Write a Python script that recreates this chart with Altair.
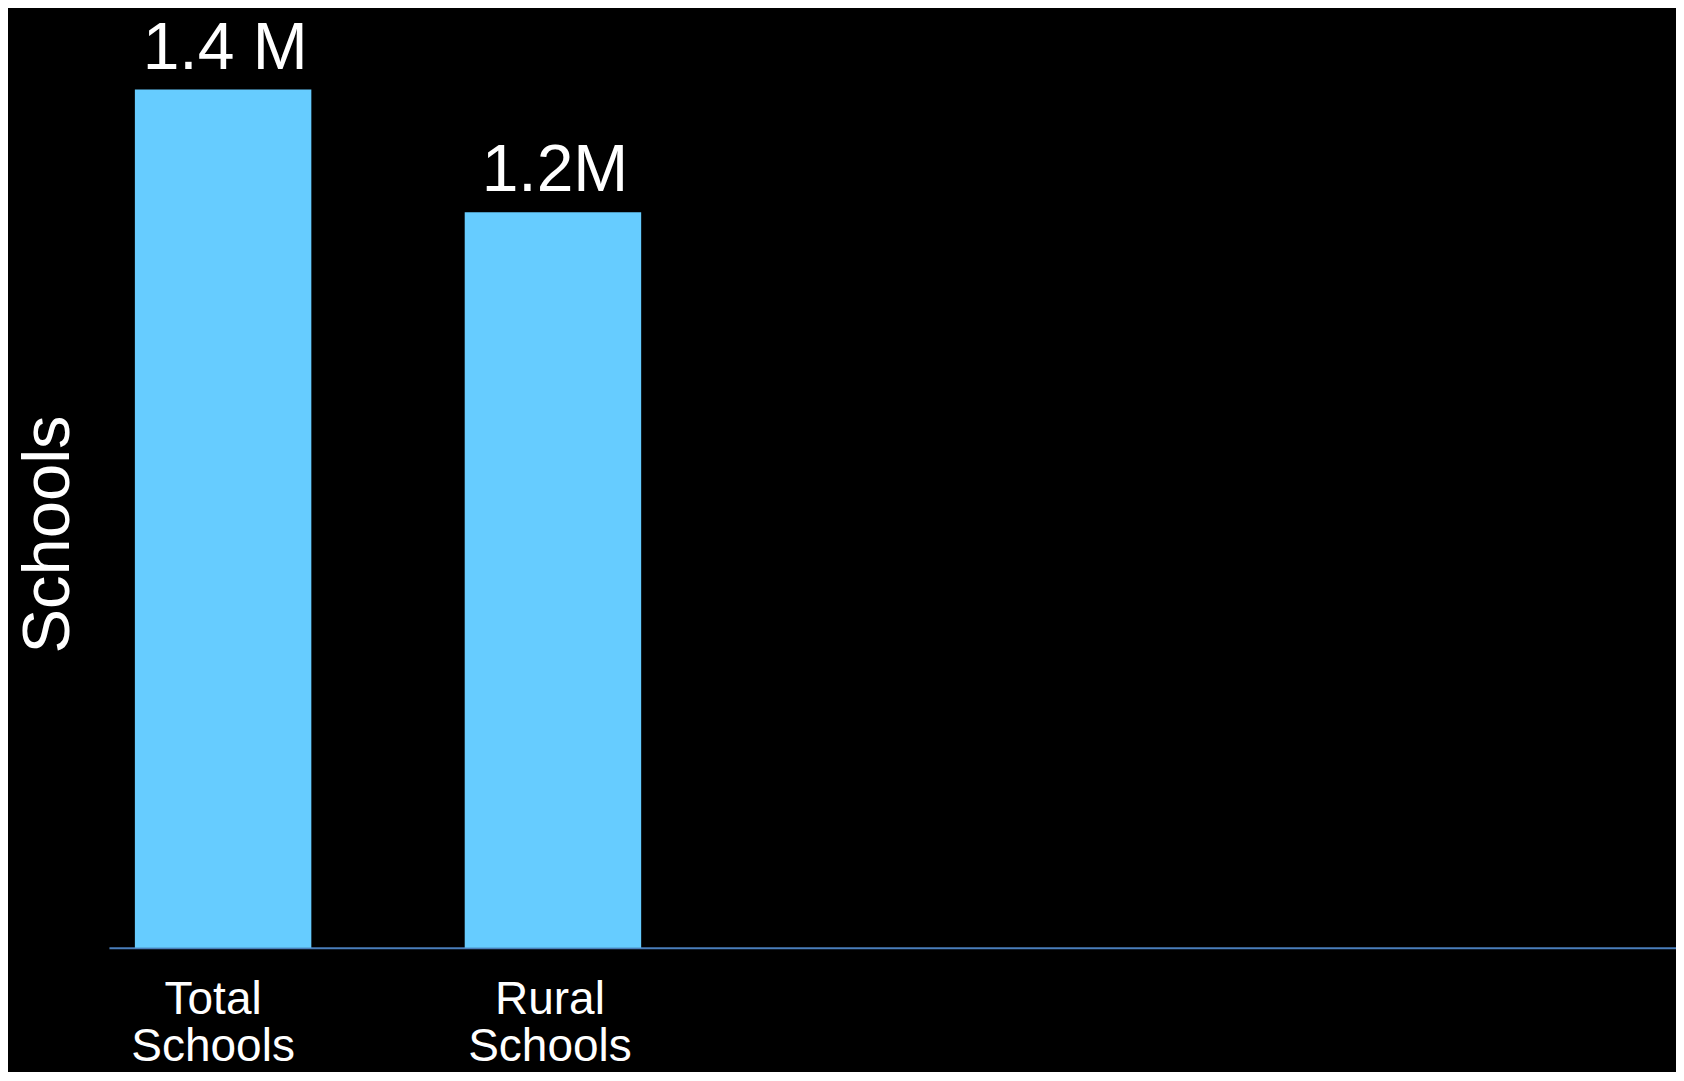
import altair as alt
import pandas as pd

categories = ["Total Schools", "Rural Schools"]
values = [1400000, 1200000]
value_labels = ["1.4 M", "1.2M"]
# empty slots to the right of the bars on the category axis
empty_slots = ["_slot3", "_slot4", "_slot5"]

df = pd.DataFrame({"category": categories, "value": values, "label": value_labels})

FONT = "Liberation Sans"

x_scale = alt.Scale(
    domain=categories + empty_slots,
    paddingInner=0.465,
    paddingOuter=0.108,
    align=0.364,
)

x_enc = alt.X(
    "category:N",
    scale=x_scale,
    axis=alt.Axis(
        title=None,
        ticks=False,
        grid=False,
        domainColor="#4A7EBB",
        domainWidth=2,
        labelColor="white",
        labelFont=FONT,
        labelFontSize=46,
        labelLineHeight=47,
        labelPadding=30,
        labelOffset={"condition": {"test": "datum.value === 'Total Schools'", "value": -10}, "value": -3},
        labelAngle=0,
        labelExpr="indexof(datum.label, '_slot') == 0 ? '' : split(datum.label, ' ')",
    ),
)

y_enc = alt.Y(
    "value:Q",
    scale=alt.Scale(domain=[0, 1500000], nice=False),
    axis=alt.Axis(
        title="Schools",
        titleColor="white",
        titleFont=FONT,
        titleFontSize=67,
        titleFontWeight="normal",
        titleBaseline="alphabetic",
        titleX=-40,
        titleY=506,
        titleAngle=270,
        titleAlign="center",
        labels=False,
        ticks=False,
        domain=False,
        grid=False,
    ),
)

bars = alt.Chart(df).mark_bar(color="#66CCFF").encode(x=x_enc, y=y_enc)

texts = alt.Chart(df).mark_text(
    color="white", font=FONT, fontSize=66, baseline="alphabetic", dy=-21, dx=2
).encode(x=alt.X("category:N", scale=x_scale), y=alt.Y("value:Q"), text="label:N")

chart = (
    alt.layer(bars, texts)
    .properties(
        width=1568,
        height=920,
        background="black",
        padding={"left": 101, "top": 20, "right": 0, "bottom": 124},
        autosize=alt.AutoSizeParams(type="none"),
    )
    .configure_view(stroke=None)
)

chart.save("out.html", embed_options={"renderer": "svg", "actions": False})
